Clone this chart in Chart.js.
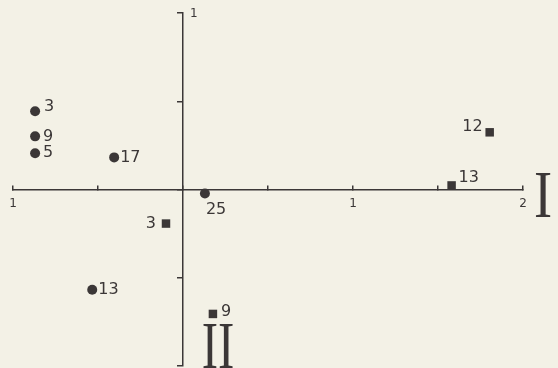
<!DOCTYPE html>
<html>
<head>
<meta charset="utf-8">
<script src="https://cdn.jsdelivr.net/npm/chart.js@4/dist/chart.umd.min.js"></script>
<style>
  html, body { margin: 0; padding: 0; background: #f3f1e6; overflow: hidden; }
  #wrap { width: 558px; height: 372px; position: relative; }
  #c { display: block; }
</style>
</head>
<body>
<div id="wrap"><canvas id="c"></canvas></div>
<script>
// ---- data ----
const circleLabels = ['3', '9', '5', '17', '25', '13'];
const circleX = [-0.87, -0.87, -0.87, -0.405, 0.129, -0.534];
const circleY = [0.443, 0.301, 0.205, 0.182, -0.023, -0.568];

const squareLabels = ['3', '9', '12', '13'];
const squareX = [-0.10, 0.176, 1.804, 1.58];
const squareY = [-0.193, -0.705, 0.324, 0.023];

const xTickLabels = { '-1': '1', '1': '1', '2': '2' };
const yTickLabels = { '1': '1' };
const axisNameX = 'I';
const axisNameY = 'II';

// ---- style (label placement relative to the marker: dx, dy, align) ----
const circleLabelPlace = [[9, -4, 'left'], [8, 0, 'left'], [8, 0, 'left'], [6, 0, 'left'], [1, 16, 'left'], [6, 0, 'left']];
const squareLabelPlace = [[-10, 0, 'right'], [8, -2, 'left'], [-7, -5, 'right'], [7, -8, 'left']];

const INK = '#3b3737';

function pts(xs, ys) { return xs.map((x, i) => ({ x: x, y: ys[i] })); }

function noScalePadding(s) {
  s.paddingTop = 0; s.paddingBottom = 0; s.paddingLeft = 0; s.paddingRight = 0;
}

const pointLabelPlugin = {
  id: 'pointLabels',
  afterDatasetsDraw(chart) {
    const ctx = chart.ctx;
    ctx.save();
    ctx.fillStyle = INK;
    ctx.font = '16px "DejaVu Sans"';
    ctx.textBaseline = 'middle';
    chart.data.datasets.forEach((ds, di) => {
      const meta = chart.getDatasetMeta(di);
      meta.data.forEach((el, i) => {
        const p = ds.labelPlace[i];
        ctx.textAlign = p[2];
        ctx.fillText(ds.pointLabels[i], el.x + p[0], el.y + p[1]);
      });
    });
    // y-axis tick label (right of the top end)
    const ys = chart.scales.y, xs = chart.scales.x;
    ctx.font = '12px "DejaVu Sans"';
    ctx.textAlign = 'left';
    Object.keys(yTickLabels).forEach(v => {
      ctx.fillText(yTickLabels[v], xs.getPixelForValue(0) + 7, ys.getPixelForValue(+v) + 1);
    });
    // roman axis names
    ctx.font = '68px "Liberation Serif"';
    ctx.textBaseline = 'alphabetic';
    ctx.textAlign = 'center';
    ctx.save();
    ctx.translate(chart.chartArea.right + 20, ys.getPixelForValue(0) + 27);
    ctx.scale(0.8, 1);
    ctx.fillText(axisNameX, 0, 0);
    ctx.restore();
    ctx.save();
    ctx.translate(xs.getPixelForValue(0) + 35, chart.chartArea.bottom + 2);
    ctx.scale(0.72, 1);
    ctx.fillText(axisNameY, 0, 0);
    ctx.restore();
    ctx.restore();
  }
};

new Chart(document.getElementById('c'), {
  type: 'scatter',
  data: {
    datasets: [
      {
        label: 'circles',
        data: pts(circleX, circleY),
        pointStyle: 'circle',
        pointRadius: 5,
        backgroundColor: INK,
        borderColor: INK,
        borderWidth: 0,
        pointLabels: circleLabels,
        labelPlace: circleLabelPlace
      },
      {
        label: 'squares',
        data: pts(squareX, squareY),
        pointStyle: 'rect',
        pointRadius: 6,
        backgroundColor: INK,
        borderColor: INK,
        borderWidth: 0,
        pointLabels: squareLabels,
        labelPlace: squareLabelPlace
      }
    ]
  },
  options: {
    responsive: true,
    maintainAspectRatio: false,
    animation: false,
    layout: { padding: { left: 13, right: 35, top: 13, bottom: 3 } },
    plugins: { legend: { display: false }, tooltip: { enabled: false } },
    scales: {
      x: {
        type: 'linear',
        min: -1, max: 2,
        position: { y: 0 },
        afterFit: noScalePadding,
        border: { display: true, color: INK, width: 1.5 },
        grid: { drawOnChartArea: false, drawTicks: true, tickLength: -5, color: INK, lineWidth: 1.5 },
        ticks: {
          stepSize: 0.5,
          padding: 12,
          color: INK,
          font: { family: 'DejaVu Sans', size: 12 },
          maxRotation: 0,
          autoSkip: false,
          callback: (v) => xTickLabels[String(v)] || ''
        }
      },
      y: {
        type: 'linear',
        min: -1, max: 1,
        position: { x: 0 },
        afterFit: noScalePadding,
        border: { display: true, color: INK, width: 1.5 },
        grid: { drawOnChartArea: false, drawTicks: true, tickLength: 5, color: INK, lineWidth: 1.5 },
        ticks: { stepSize: 0.5, display: false }
      }
    }
  },
  plugins: [pointLabelPlugin]
});
</script>
</body>
</html>
